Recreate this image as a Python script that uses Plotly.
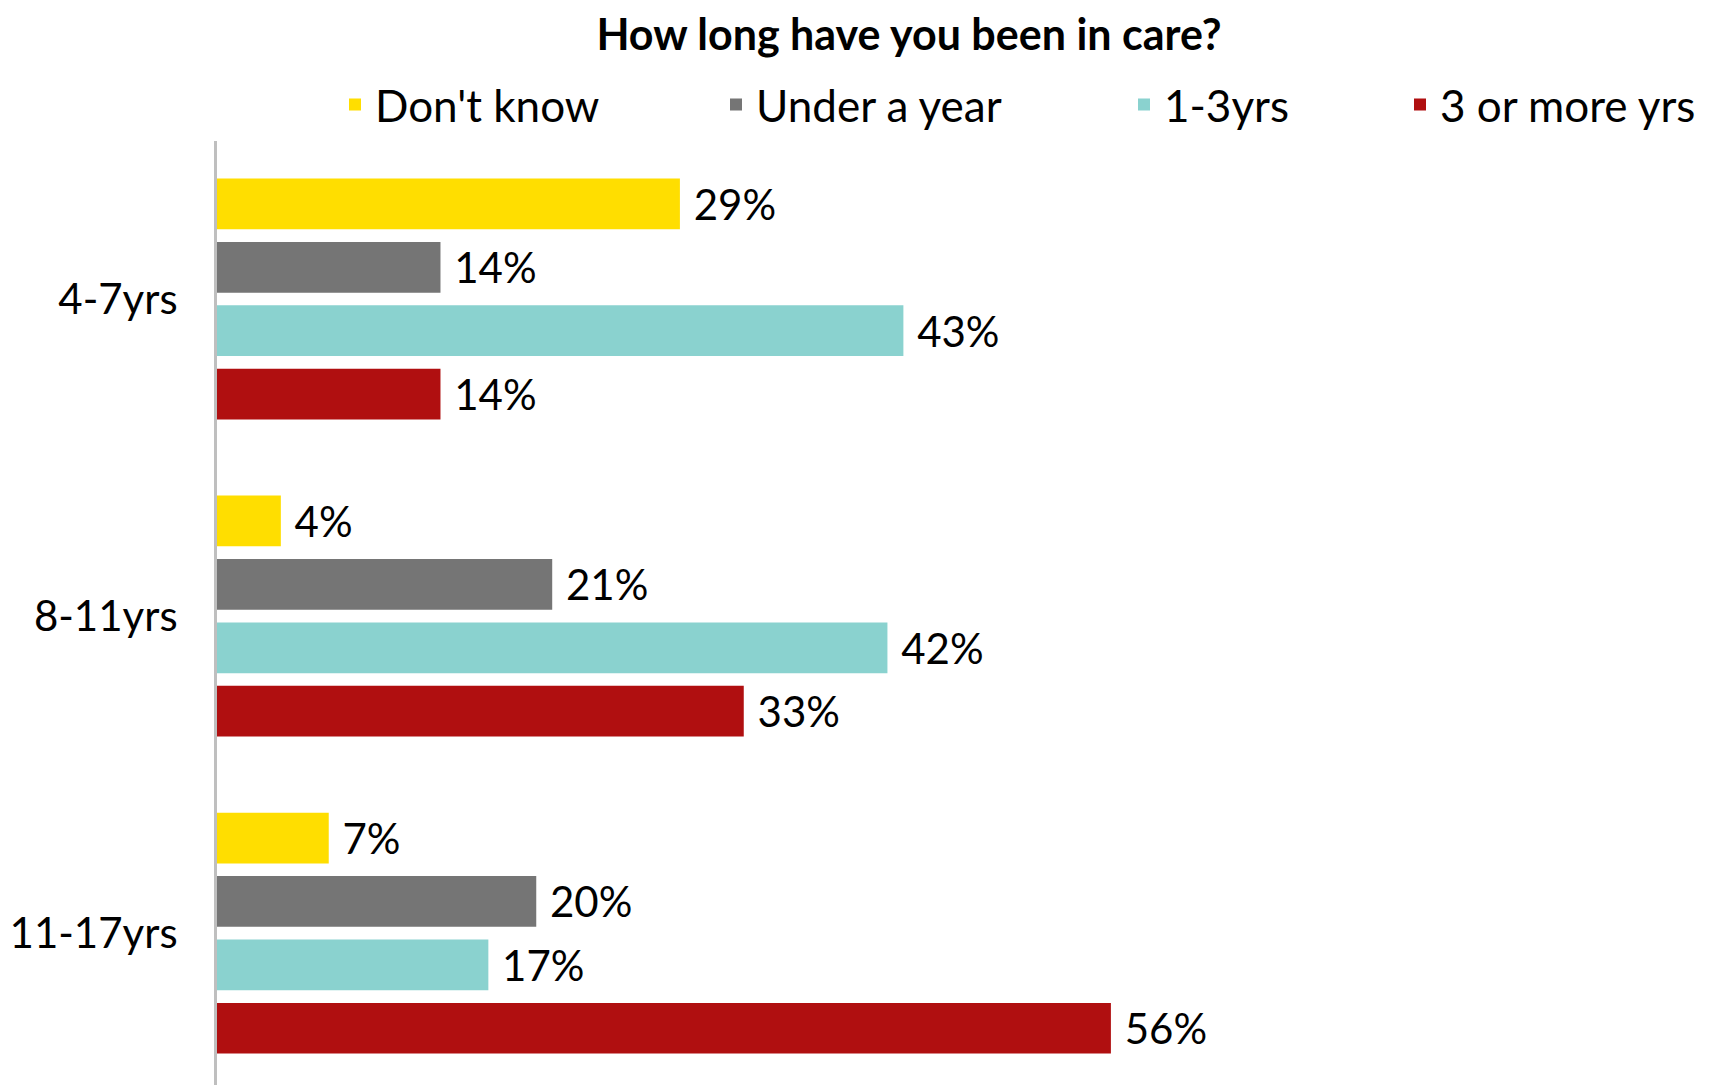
import plotly.graph_objects as go

categories = ["4-7yrs", "8-11yrs", "11-17yrs"]
series_names = ["Don't know", "Under a year", "1-3yrs", "3 or more yrs"]
dont_know = [29, 4, 7]
under_a_year = [14, 21, 20]
one_to_three = [43, 42, 17]
three_or_more = [14, 33, 56]

series_values = [dont_know, under_a_year, one_to_three, three_or_more]
colors = ["#FFDE00", "#757575", "#8AD2CF", "#B00F10"]
legend_ids = ["legend", "legend2", "legend3", "legend4"]

# page body has an 8px default margin, so the figure is drawn 8px in from the corner
OFF = 8
W, H = 1719 - OFF, 1085 - OFF
legend_x_px = [335 - OFF, 716 - OFF, 1124 - OFF, 1400 - OFF]
FONT = "Lato"

fig = go.Figure()
for name, vals, col, lid in zip(series_names, series_values, colors, legend_ids):
    fig.add_trace(go.Bar(
        y=categories, x=vals, name=name, orientation="h",
        marker=dict(color=col, line=dict(width=0)),
        texttemplate="\u00a0%{x}%", textposition="outside",
        textfont=dict(family=FONT, size=42, color="black"),
        constraintext="none", cliponaxis=False,
        legend=lid, hoverinfo="skip",
    ))

legend_common = dict(orientation="h", xref="container", yref="container",
                     y=1 - (105 - OFF) / H, yanchor="middle", xanchor="left",
                     font=dict(family=FONT, size=44, color="black"),
                     bgcolor="rgba(0,0,0,0)", borderwidth=0)

layout_legends = {}
for lid, px in zip(legend_ids, legend_x_px):
    layout_legends[lid] = dict(legend_common, x=px / W)

plot_w = 1277
fig.update_layout(
    width=W, height=H,
    margin=dict(l=217 - OFF, r=W - (217 - OFF) - plot_w, t=138 - OFF, b=0, pad=0),
    paper_bgcolor="white", plot_bgcolor="white",
    barmode="group", bargap=0.2, bargroupgap=0.2,
    title=dict(text="<b>How long have you been in care?</b>",
               x=(909 - OFF) / W, xanchor="center", xref="container",
               y=1 - (35 - OFF) / H, yanchor="middle", yref="container",
               font=dict(family=FONT, size=43, color="black")),
    xaxis=dict(range=[0, 80], visible=False, fixedrange=True),
    yaxis=dict(range=[2.479, -0.5], showline=True, linecolor="#BFBFBF",
               linewidth=3, showgrid=False, zeroline=False,
               ticks="", ticklabelstandoff=28,
               tickfont=dict(family=FONT, size=42, color="black")),
    showlegend=True,
    **layout_legends,
)

fig.write_html("out.html")
